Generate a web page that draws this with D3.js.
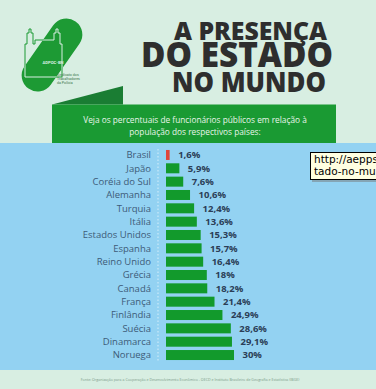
<!DOCTYPE html>
<html>
<head>
<meta charset="utf-8">
<script src="https://cdn.jsdelivr.net/npm/d3@7"></script>
<style>
  html, body { margin: 0; padding: 0; background: #d8eee2; }
  svg { display: block; }
</style>
</head>
<body>
<svg id="chart" width="376" height="389"></svg>
<script>
// Data
const countries = ["Brasil", "Japão", "Coréia do Sul", "Alemanha", "Turquia", "Itália",
  "Estados Unidos", "Espanha", "Reino Unido", "Grécia", "Canadá", "França",
  "Finlândia", "Suécia", "Dinamarca", "Noruega"];
const values = [1.6, 5.9, 7.6, 10.6, 12.4, 13.6, 15.3, 15.7, 16.4, 18, 18.2, 21.4, 24.9, 28.6, 29.1, 30];
const valueLabels = ["1,6%", "5,9%", "7,6%", "10,6%", "12,4%", "13,6%", "15,3%", "15,7%",
  "16,4%", "18%", "18,2%", "21,4%", "24,9%", "28,6%", "29,1%", "30%"];
const titleLines = ["A PRESENÇA", "DO ESTADO", "NO MUNDO"];
const subtitleLines = ["Veja os percentuais de funcionários públicos em relação à",
  "população dos respectivos países:"];
const sourceText = "Fonte: Organização para a Cooperação e Desenvolvimento Econômico - OECD e Instituto Brasileiro de Geografia e Estatística (IBGE)";

const svg = d3.select("#chart");
const W = 376, H = 389;
const bg = "#d8eee2";
const green = "#1d9a34";

// backgrounds
svg.append("rect").attr("width", W).attr("height", H).attr("fill", bg);
svg.append("rect").attr("x", 0).attr("y", 143).attr("width", W).attr("height", 227)
  .attr("fill", "#93d2f2");

// logo: slanted green leaf with castle outline
const defs = svg.append("defs");
defs.append("clipPath").attr("id", "leaf")
  .append("rect").attr("x", -41).attr("y", -16).attr("width", 82).attr("height", 32).attr("rx", 16)
  .attr("transform", "translate(52,55) rotate(-55)");
svg.append("rect").attr("x", -41).attr("y", -16).attr("width", 82).attr("height", 32).attr("rx", 16)
  .attr("transform", "translate(52,55) rotate(-55)").attr("fill", green);

const castlePath = "M25,77 V44 H27 V33 H29 V29 H31 V33 H33 V44 H35 V40 H54 V33 H56 V29 H58 V33 H60 V44 H62 V77 Z";
svg.append("path").attr("d", castlePath).attr("fill", "none")
  .attr("stroke", green).attr("stroke-width", 1);
svg.append("path").attr("d", castlePath).attr("fill", "none")
  .attr("stroke", bg).attr("stroke-width", 1).attr("clip-path", "url(#leaf)");
svg.append("text").attr("x", 53).attr("y", 64).attr("text-anchor", "middle")
  .attr("font-family", "Roboto, sans-serif").attr("font-size", 4.2).attr("font-weight", 700)
  .attr("fill", bg).text("ADPOC-BN");
svg.append("g").selectAll("text")
  .data(["Sindicato dos", "Trabalhadores", "da Polícia"])
  .join("text")
  .attr("x", 57).attr("y", (d, i) => 76 + i * 4)
  .attr("font-family", "Roboto, sans-serif").attr("font-size", 3.6)
  .attr("fill", "#3c7a4c").text(d => d);

// title
const titleBase = [40, 67, 91.5];
const titleSize = [24, 35, 28];
const titleEnd = [327, 333, 326];
const titleLen = [153, 192, 154];
svg.append("g").selectAll("text")
  .data(titleLines)
  .join("text")
  .attr("x", (d, i) => titleEnd[i] - titleLen[i])
  .attr("y", (d, i) => titleBase[i])
  .attr("textLength", (d, i) => titleLen[i])
  .attr("lengthAdjust", "spacingAndGlyphs")
  .attr("font-family", "'Open Sans', sans-serif")
  .attr("font-weight", 800)
  .attr("font-size", (d, i) => titleSize[i])
  .attr("fill", "#2e2e2e")
  .text(d => d);

// banner
svg.append("path").attr("d", "M52,104.5 L123,86 L123,104.5 Z").attr("fill", "#1a7d33");
svg.append("rect").attr("x", 52).attr("y", 104.5).attr("width", 284).attr("height", 38.5)
  .attr("fill", "#1a9a33");
svg.append("g").selectAll("text")
  .data(subtitleLines)
  .join("text")
  .attr("x", 195)
  .attr("y", (d, i) => 123 + i * 12)
  .attr("text-anchor", "middle")
  .attr("font-family", "'Open Sans', sans-serif")
  .attr("font-size", 8.3)
  .attr("fill", "#e8f5ea")
  .text(d => d);

// scales
const x = d3.scaleLinear().domain([0, 30]).range([166, 234]);
const y = d3.scaleBand().domain(countries).range([148.3, 361.7]).paddingInner(0.25).paddingOuter(0.125);

// dotted axis
svg.append("line").attr("x1", 158).attr("x2", 158).attr("y1", 149).attr("y2", 361)
  .attr("stroke", "#d6eefa").attr("stroke-width", 1).attr("stroke-dasharray", "1.5,2");

const rows = svg.append("g").selectAll("g")
  .data(countries.map((c, i) => ({ c, v: values[i], l: valueLabels[i] })))
  .join("g");

rows.append("rect")
  .attr("x", x(0))
  .attr("y", d => y(d.c))
  .attr("width", d => x(d.v) - x(0))
  .attr("height", y.bandwidth())
  .attr("fill", d => d.c === "Brasil" ? "#e0453a" : "#129a2c");

rows.append("text")
  .attr("x", 151)
  .attr("y", d => y(d.c) + y.bandwidth() / 2)
  .attr("dy", "0.35em")
  .attr("text-anchor", "end")
  .attr("font-family", "'Open Sans', sans-serif")
  .attr("font-size", 9.5)
  .attr("fill", "#3d5b78")
  .text(d => d.c);

rows.append("text")
  .attr("x", d => x(d.v) + 8.5)
  .attr("y", d => y(d.c) + y.bandwidth() / 2)
  .attr("dy", "0.35em")
  .attr("font-family", "'Open Sans', sans-serif")
  .attr("font-weight", 700)
  .attr("font-size", 9.5)
  .attr("fill", "#2b3e57")
  .text(d => d.l);

// source
svg.append("text").attr("x", 190).attr("y", 381).attr("text-anchor", "middle")
  .attr("font-family", "'Open Sans', sans-serif").attr("font-size", 3.6)
  .attr("fill", "#7a9a88").text(sourceText);

// browser tooltip (cut off by the right edge, as in the reference)
const tip = svg.append("g").attr("transform", "translate(310,152)");
tip.append("rect").attr("x", 2).attr("y", 2).attr("width", 70).attr("height", 28)
  .attr("fill", "#777").attr("opacity", 0.5);
tip.append("rect").attr("x", 0.5).attr("y", 0.5).attr("width", 70).attr("height", 27)
  .attr("fill", "#ffffe1").attr("stroke", "#000");
tip.selectAll("text.t")
  .data(["http://aepps", "tado-no-mu"])
  .join("text")
  .attr("x", 4).attr("y", (d, i) => 11 + i * 12)
  .attr("font-family", "'DejaVu Sans', sans-serif").attr("font-size", 10.5)
  .attr("fill", "#000").text(d => d);
</script>
</body>
</html>
